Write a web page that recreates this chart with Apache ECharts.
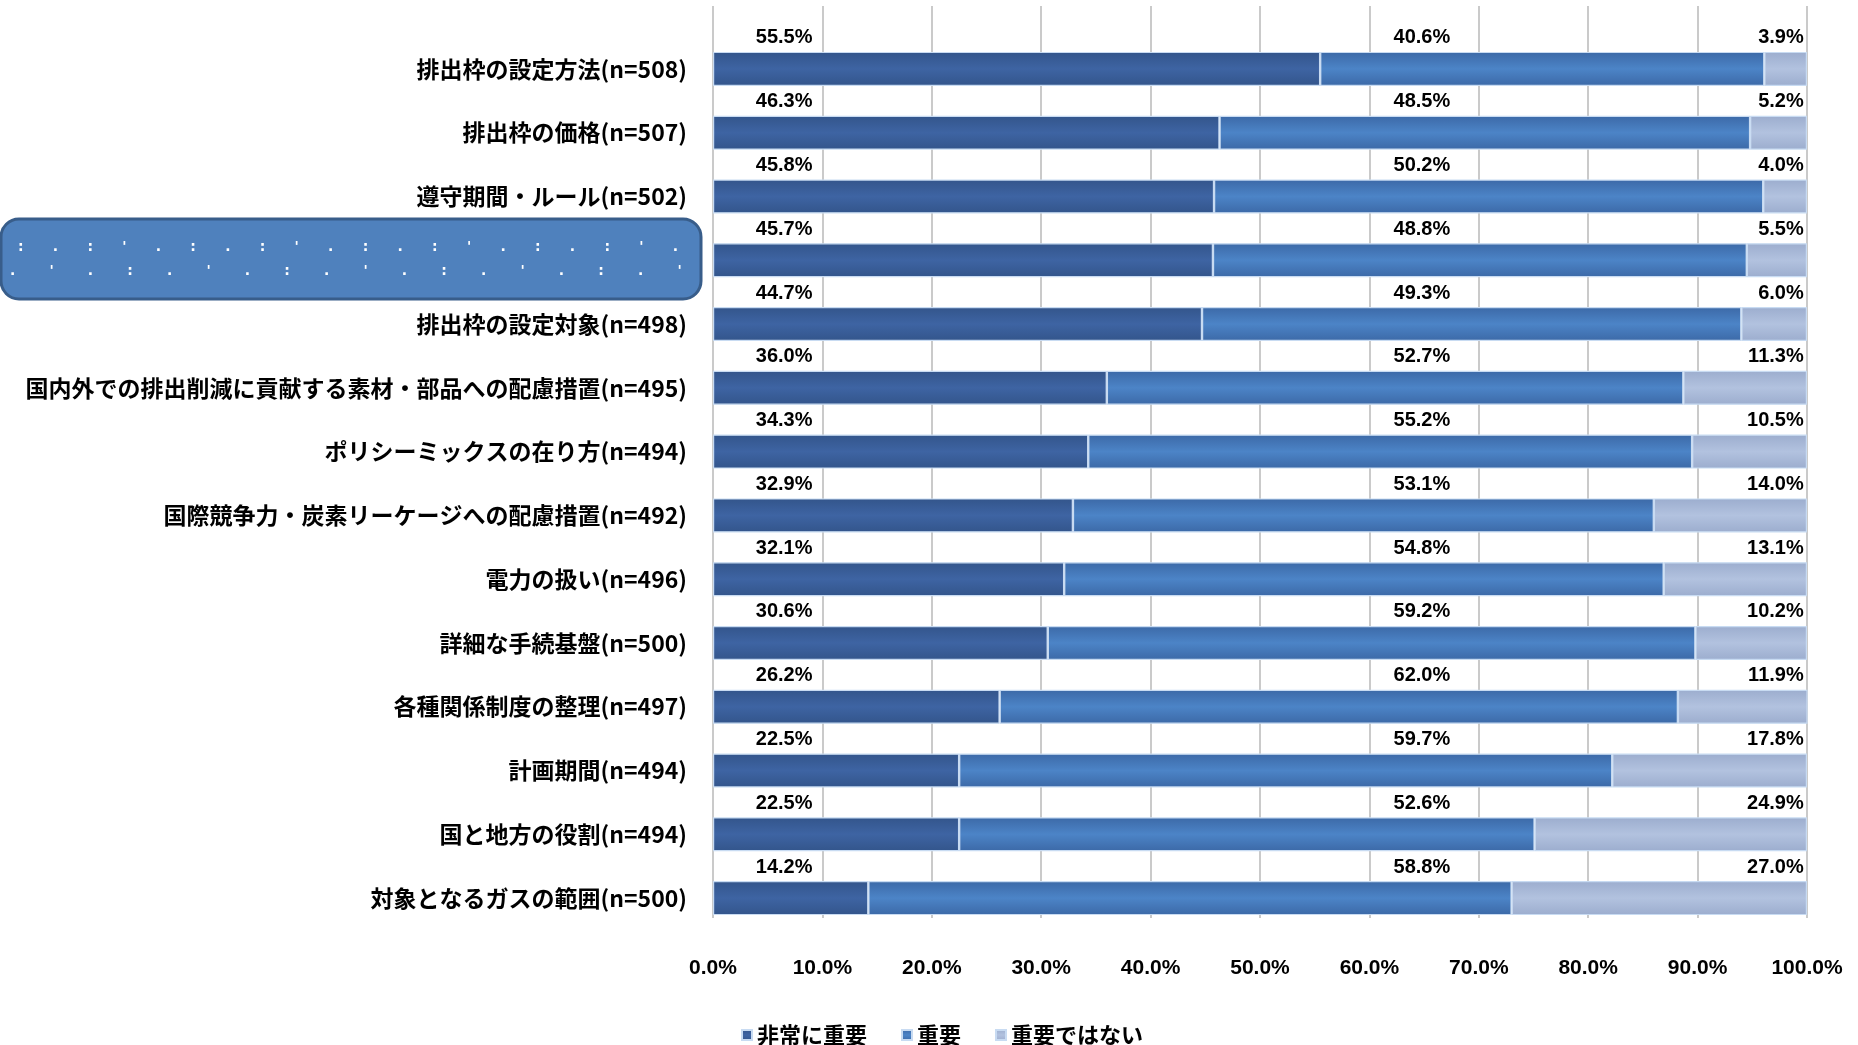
<!DOCTYPE html>
<html>
<head>
<meta charset="utf-8">
<script src="https://cdn.jsdelivr.net/npm/echarts@6/dist/echarts.min.js"></script>
<style>
html,body{margin:0;padding:0;background:#fff;}
#chart{width:1858px;height:1045px;}
</style>
</head>
<body>
<div id="chart"></div>
<script>
// ---- data ----
const categories = [
  '排出枠の設定方法(n=508)',
  '排出枠の価格(n=507)',
  '遵守期間・ルール(n=502)',
  '排出枠の割当方法(n=500)',
  '排出枠の設定対象(n=498)',
  '国内外での排出削減に貢献する素材・部品への配慮措置(n=495)',
  'ポリシーミックスの在り方(n=494)',
  '国際競争力・炭素リーケージへの配慮措置(n=492)',
  '電力の扱い(n=496)',
  '詳細な手続基盤(n=500)',
  '各種関係制度の整理(n=497)',
  '計画期間(n=494)',
  '国と地方の役割(n=494)',
  '対象となるガスの範囲(n=500)'
];
const seriesNames = ['非常に重要', '重要', '重要ではない'];
const veryImportant = [55.5, 46.3, 45.8, 45.7, 44.7, 36.0, 34.3, 32.9, 32.1, 30.6, 26.2, 22.5, 22.5, 14.2];
const important     = [40.6, 48.5, 50.2, 48.8, 49.3, 52.7, 55.2, 53.1, 54.8, 59.2, 62.0, 59.7, 52.6, 58.8];
const notImportant  = [3.9, 5.2, 4.0, 5.5, 6.0, 11.3, 10.5, 14.0, 13.1, 10.2, 11.9, 17.8, 24.9, 27.0];
const xTicks = [0, 10, 20, 30, 40, 50, 60, 70, 80, 90, 100];

// ---- styling / layout constants ----
const LABEL_COL = { left: 6.5, mid: 64.8, right: 99.7 };
const LABEL_DY = -31;
const valueFont = 'bold 20px "Liberation Sans", Arial, sans-serif';

function grad(edge, mid) {
  return { type: 'linear', x: 0, y: 0, x2: 0, y2: 1,
    colorStops: [{ offset: 0, color: edge }, { offset: 0.5, color: mid }, { offset: 1, color: edge }] };
}
const colors = [grad('#33558b', '#3e64a3'), grad('#3c69a7', '#4c84c7'), grad('#9cadce', '#b2c2df')];
const legendColors = ['#3e64a3', '#4c84c7', '#b2c2df'];

const chart = echarts.init(document.getElementById('chart'));
const labelData = categories.map((c, i) => [i, veryImportant[i], important[i], notImportant[i]]);

const dots1 = ':      .      :      \'      .      :      .      :      \'      .      :      .      :      \'      .      :      .      :      \'      .      :';
const dots2 = '.       \'       .       :       .       \'       .       :       .       \'       .       :       .       \'       .       :       .       \'';

const option = {
  animation: false,
  backgroundColor: '#ffffff',
  grid: [
    { left: 713, right: 51, top: 37, bottom: 115 },
    { left: 713, right: 51, top: 6, bottom: 127 }
  ],
  xAxis: [
    { gridIndex: 0, type: 'value', min: 0, max: 100, show: false },
    { gridIndex: 1, type: 'value', min: 0, max: 100, interval: 10,
      axisLine: { show: false }, axisTick: { show: false },
      splitLine: { show: true, lineStyle: { color: '#b8b8b8', width: 1.5 } },
      axisLabel: { margin: 40, color: '#000', fontSize: 21, fontWeight: 'bold',
        fontFamily: '"Liberation Sans", Arial, sans-serif',
        formatter: v => xTicks.includes(v) ? v.toFixed(1) + '%' : '' } }
  ],
  yAxis: [
    { gridIndex: 0, type: 'category', data: categories, inverse: true,
      axisLine: { show: false }, axisTick: { show: false }, splitLine: { show: false },
      axisLabel: { margin: 26, color: '#000', fontSize: 23, fontWeight: 'bold',
        fontFamily: '"Noto Sans CJK JP", sans-serif' } },
    { gridIndex: 1, type: 'value', min: 0, max: 1, show: false }
  ],
  legend: {
    data: seriesNames, left: 736, top: 1019, itemWidth: 10, itemHeight: 10, itemGap: 34,
    icon: 'rect',
    textStyle: { color: '#000', fontSize: 22, fontWeight: 'bold', fontFamily: '"Noto Sans CJK JP", sans-serif' }
  },
  series: [
    ...[veryImportant, important, notImportant].map((arr, k) => ({
      name: seriesNames[k], type: 'bar', stack: 'total', xAxisIndex: 0, yAxisIndex: 0,
      barWidth: 34, data: arr, color: legendColors[k],
      itemStyle: { color: colors[k], borderColor: '#c8dbf2', borderWidth: 1.2 },
      z: 3
    })),
    {
      type: 'custom', xAxisIndex: 0, yAxisIndex: 0, clip: false, z: 5,
      data: labelData, encode: { x: 1, y: 0 },
      renderItem: function (params, api) {
        const idx = api.value(0);
        const pL = api.coord([LABEL_COL.left, idx]);
        const pM = api.coord([LABEL_COL.mid, idx]);
        const pR = api.coord([LABEL_COL.right, idx]);
        const mk = (p, v, align) => ({
          type: 'text', x: p[0], y: p[1] + LABEL_DY,
          style: { text: v.toFixed(1) + '%', font: valueFont, fill: '#000', align: align, verticalAlign: 'middle' }
        });
        return { type: 'group', children: [
          mk(pL, api.value(1), 'center'), mk(pM, api.value(2), 'center'), mk(pR, api.value(3), 'right')
        ] };
      }
    }
  ],
  graphic: [
    { type: 'rect', z: 100, shape: { x: 1, y: 219, width: 700, height: 80, r: 18 },
      style: { fill: '#4f81bd', stroke: '#385d8a', lineWidth: 3 } },
    { type: 'text', z: 101, x: 18, y: 240,
      style: { text: dots1, fill: '#ffffff', font: 'bold 14px "DejaVu Sans", sans-serif' } },
    { type: 'text', z: 101, x: 10, y: 264,
      style: { text: dots2, fill: '#ffffff', font: 'bold 14px "DejaVu Sans", sans-serif' } }
  ]
};
chart.setOption(option);
</script>
</body>
</html>
